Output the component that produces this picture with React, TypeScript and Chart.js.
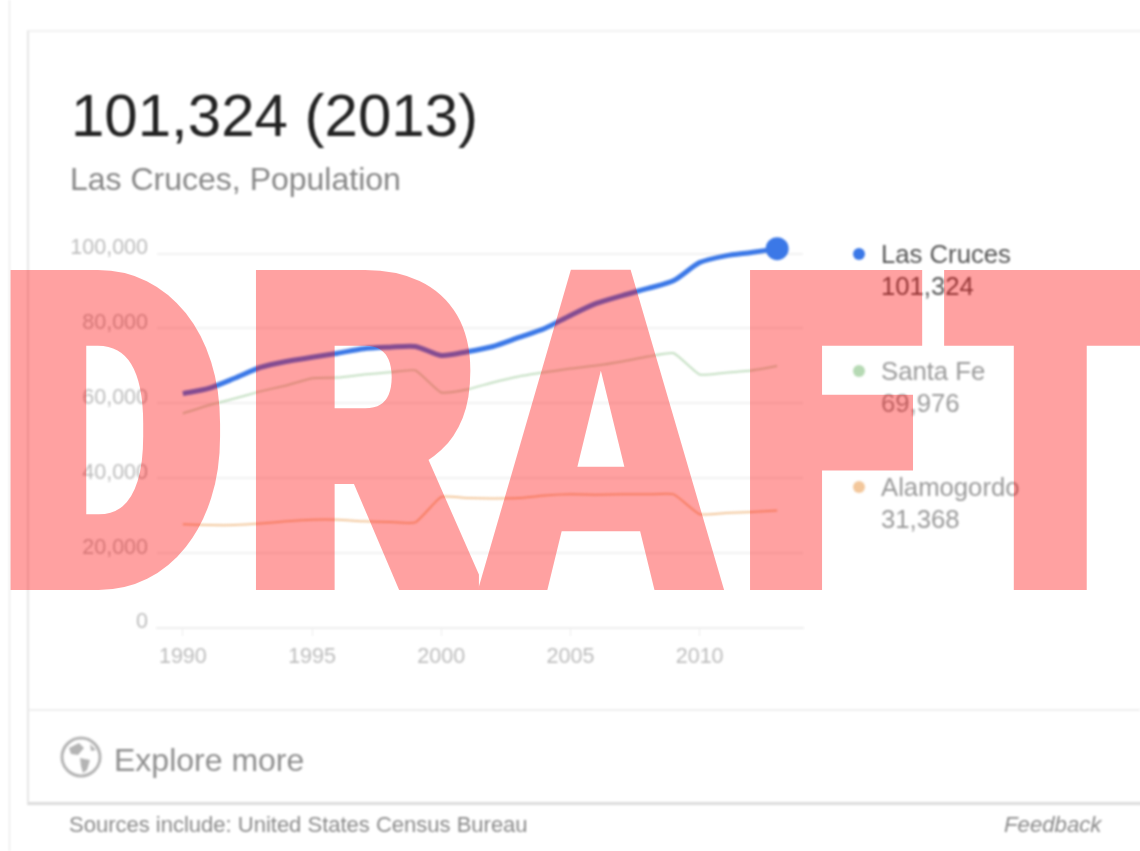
import React, { useEffect, useRef } from "react";
import { Chart, registerables } from "chart.js";

Chart.register(...registerables);

const years = [1990, 1991, 1992, 1993, 1994, 1995, 1996, 1997, 1998, 1999, 2000, 2001, 2002, 2003, 2004, 2005, 2006, 2007, 2008, 2009, 2010, 2011, 2012, 2013];
const lasCruces = [62600, 64000, 66700, 69600, 71200, 72300, 73400, 74600, 75000, 75200, 72800, 73800, 75200, 77600, 80000, 83500, 86700, 88800, 90700, 92800, 97600, 99400, 100300, 101324];
const santaFe = [57300, 59500, 61300, 63200, 64800, 66700, 66900, 67700, 68300, 68800, 62900, 63700, 65600, 67200, 68300, 69300, 70100, 71200, 72500, 73400, 67700, 68200, 68800, 69976];
const alamogordo = [27700, 27500, 27500, 27900, 28500, 28900, 28900, 28500, 28300, 28200, 35000, 34700, 34600, 34700, 35400, 35700, 35600, 35700, 35700, 35700, 30400, 30700, 31000, 31368];
const xTicks = [1990, 1995, 2000, 2005, 2010];
const yTicks = [0, 20000, 40000, 60000, 80000, 100000];
const legendItems = [
  { name: "Las Cruces", value: "101,324", color: "#3b78e7", textColor: "#555555", top: 238 },
  { name: "Santa Fe", value: "69,976", color: "#b5d9b3", textColor: "#9a9a9a", top: 355 },
  { name: "Alamogordo", value: "31,368", color: "#f3c79b", textColor: "#9a9a9a", top: 471 },
];
const stampLetters = [
  { ch: "D", left: 0, top: 225, size: 422, stroke: 20, scale: 0.82 },
  { ch: "R", left: 245, top: 225, size: 422, stroke: 20, scale: 0.852 },
  { ch: "A", left: 482, top: 215, size: 442, stroke: 6, scale: 0.79 },
  { ch: "F", left: 740, top: 225, size: 422, stroke: 20, scale: 0.78 },
  { ch: "T", left: 945.5, top: 225, size: 422, stroke: 20, scale: 0.79 },
];

const FONT = '"Liberation Sans", Arial, sans-serif';

function text(style: React.CSSProperties): React.CSSProperties {
  return { position: "absolute", whiteSpace: "nowrap", fontFamily: FONT, ...style };
}

export default function App() {
  const ref = useRef<HTMLCanvasElement>(null);

  useEffect(() => {
    document.body.style.margin = "0";
    const last = years.length - 1;
    const chart = new Chart(ref.current!, {
      type: "line",
      data: {
        labels: years,
        datasets: [
          { label: "Alamogordo", data: years.map((y, i) => ({ x: y, y: alamogordo[i] })), borderColor: "#f3c79b", borderWidth: 2, pointRadius: 0, tension: 0.15 },
          { label: "Santa Fe", data: years.map((y, i) => ({ x: y, y: santaFe[i] })), borderColor: "#c4dfc2", borderWidth: 2, pointRadius: 0, tension: 0.15 },
          {
            label: "Las Cruces",
            data: years.map((y, i) => ({ x: y, y: lasCruces[i] })),
            borderColor: "#3b78e7",
            backgroundColor: "#3b78e7",
            borderWidth: 5,
            tension: 0.25,
            pointRadius: (c: any) => (c.dataIndex === last ? 9 : 0),
            clip: false,
          },
        ],
      },
      options: {
        responsive: false,
        animation: false,
        layout: { padding: { top: 0, right: 57, left: 0, bottom: 0 } },
        plugins: { legend: { display: false }, tooltip: { enabled: false } },
        scales: {
          x: {
            type: "linear",
            min: 1989,
            max: 2014,
            afterBuildTicks: (s: any) => { s.ticks = xTicks.map((value) => ({ value })); },
            afterFit: (s: any) => { s.height = 40; },
            border: { display: true, color: "#eeeeee", width: 2 },
            grid: { drawOnChartArea: false, color: "#eeeeee", tickLength: 8 },
            ticks: { color: "#bcbcbc", font: { family: FONT, size: 21.5 }, padding: 8, maxRotation: 0, autoSkip: false, callback: (v: any) => String(v) },
          },
          y: {
            type: "linear",
            min: 0,
            max: 105000,
            afterBuildTicks: (s: any) => { s.ticks = yTicks.map((value) => ({ value })); },
            afterFit: (s: any) => { s.width = 157; },
            border: { display: false },
            grid: { color: "#f1f1f1", lineWidth: 2, drawTicks: false },
            ticks: { color: "#bcbcbc", font: { family: FONT, size: 21.5 }, padding: 9, labelOffset: -5.5, callback: (v: any) => Number(v).toLocaleString("en-US") },
          },
        },
      },
    } as any);
    return () => chart.destroy();
  }, []);

  return (
    <div style={{ position: "relative", width: 1140, height: 851, overflow: "hidden", background: "#fff" }}>
      <div style={{ position: "absolute", inset: 0, filter: "blur(0.9px)" }}>
        <div style={{ position: "absolute", left: 9, top: 0, width: 1, height: 851, background: "#e4e4e4" }} />
        <div style={{ position: "absolute", left: 27, top: 30, width: 1140, height: 775, borderLeft: "2px solid #e6e6e6", borderTop: "2px solid #f1f1f1", borderBottom: "3px solid #dcdcdc", boxSizing: "border-box" }} />
        <div style={{ position: "absolute", left: 29, top: 709, width: 1111, height: 2, background: "#efefef" }} />

        <div style={text({ left: 71, top: 80, fontSize: 60, color: "#222222", lineHeight: "72px" })}>101,324 (2013)</div>
        <div style={text({ left: 70, top: 160, fontSize: 32, color: "#868686", lineHeight: "38px" })}>Las Cruces, Population</div>

        <canvas ref={ref} width={860} height={455} style={{ position: "absolute", left: 0, top: 213, width: 860, height: 455 }} />

        {legendItems.map((item) => (
          <div key={item.name}>
            <div style={{ position: "absolute", left: 853, top: item.top + 10, width: 12, height: 12, borderRadius: "50%", background: item.color }} />
            <div style={text({ left: 881, top: item.top, fontSize: 25.7, lineHeight: "32px", color: item.textColor })}>{item.name}</div>
            <div style={text({ left: 881, top: item.top + 32, fontSize: 25.7, lineHeight: "32px", color: item.textColor })}>{item.value}</div>
          </div>
        ))}

        <svg style={{ position: "absolute", left: 60, top: 736 }} width="42" height="42" viewBox="0 0 42 42">
          <circle cx="21" cy="21" r="19" fill="none" stroke="#b4b4b4" strokeWidth="3" />
          <path d="M9 12 L19 7 L24 12 L18 19 L11 18 Z M20 22 L30 24 L27 34 L23 37 L21 30 Z M30 8 L36 14 L31 15 Z" fill="#b4b4b4" />
        </svg>
        <div style={text({ left: 114, top: 740, fontSize: 32, lineHeight: "40px", color: "#8e8e8e" })}>Explore more</div>
        <div style={text({ left: 69, top: 812, fontSize: 22, lineHeight: "26px", color: "#8a8a8a" })}>Sources include: United States Census Bureau</div>
        <div style={text({ left: 1004, top: 812, fontSize: 22.2, lineHeight: "26px", color: "#8a8a8a", fontStyle: "italic" })}>Feedback</div>
      </div>

      <div style={{ position: "absolute", inset: 0, opacity: 0.37 }}>
        {stampLetters.map((l) => (
          <div key={l.ch} style={{ position: "absolute", left: l.left, top: l.top, fontFamily: "Roboto, sans-serif", fontWeight: 900, fontSize: l.size, lineHeight: `${l.size}px`, color: "#ff0000", WebkitTextStroke: `${l.stroke}px #ff0000`, transformOrigin: "0 0", transform: `scaleX(${l.scale})` }}>{l.ch}</div>
        ))}
      </div>
    </div>
  );
}
